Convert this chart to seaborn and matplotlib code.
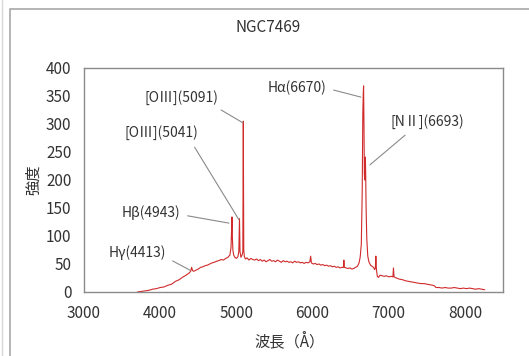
import numpy as np
import pandas as pd
import seaborn as sns
import matplotlib.pyplot as plt
from matplotlib.patches import Rectangle
from matplotlib.lines import Line2D

# spectrum of NGC7469 (wavelength in A, intensity)
wave = [3700, 3750, 3800, 3850, 3900, 3950, 4000, 4050, 4100, 4150,
        4200, 4250, 4300, 4340, 4380, 4400, 4413, 4425, 4440, 4470,
        4500, 4530, 4560, 4590, 4620, 4650, 4680, 4710, 4740, 4770,
        4800, 4830, 4860, 4890, 4915, 4930, 4938, 4943, 4948, 4955,
        4965, 4980, 5000, 5020, 5032, 5041, 5048, 5060, 5075, 5085,
        5091, 5097, 5105, 5120, 5140, 5165, 5190, 5215, 5240, 5265,
        5290, 5315, 5340, 5365, 5390, 5415, 5440, 5465, 5490, 5515,
        5540, 5565, 5590, 5615, 5640, 5665, 5690, 5715, 5740, 5765,
        5790, 5815, 5840, 5865, 5890, 5915, 5940, 5965, 5975, 5985,
        6010, 6035, 6060, 6085, 6110, 6135, 6160, 6185, 6210, 6235,
        6260, 6285, 6310, 6335, 6360, 6385, 6405, 6411, 6418, 6440,
        6465, 6490, 6515, 6540, 6565, 6590, 6610, 6625, 6640, 6652,
        6660, 6666, 6670, 6675, 6680, 6686, 6690, 6693, 6697, 6703,
        6712, 6725, 6740, 6760, 6780, 6800, 6815, 6825, 6831, 6838,
        6850, 6865, 6885, 6910, 6940, 6970, 7000, 7030, 7055, 7062,
        7070, 7100, 7140, 7180, 7220, 7260, 7300, 7340, 7380, 7420,
        7460, 7500, 7540, 7580, 7600, 7620, 7660, 7700, 7740, 7780,
        7820, 7860, 7900, 7940, 7980, 8020, 8060, 8100, 8140, 8180,
        8220, 8260]
flux = [0, 1, 2, 3, 5, 6, 8, 9, 12, 14,
        19, 22, 27, 30, 34, 37, 44, 38, 37, 39,
        41, 44, 45, 47, 48, 50, 52, 53, 55, 56,
        58, 57, 60, 62, 66, 80, 110, 134, 96, 74,
        66, 62, 60, 63, 72, 131, 72, 62, 66, 72,
        305, 75, 63, 59, 61, 57, 60, 58, 57, 59,
        56, 58, 55, 57, 54, 56, 58, 55, 56, 54,
        57, 55, 53, 56, 54, 55, 53, 54, 52, 55,
        53, 54, 52, 53, 51, 53, 52, 54, 64, 52,
        50, 51, 49, 50, 48, 49, 47, 48, 46, 47,
        45, 46, 44, 45, 43, 44, 44, 57, 44, 43,
        42, 43, 41, 42, 44, 46, 52, 62, 85, 180,
        320, 355, 368, 300, 210, 200, 225, 241, 215, 150,
        95, 64, 54, 48, 46, 44, 40, 43, 64, 41,
        28, 26, 30, 29, 28, 29, 27, 28, 27, 43,
        27, 25, 23, 22, 20, 19, 18, 17, 16, 15,
        15, 14, 13, 12, 11, 8, 8, 7, 8, 7,
        7, 8, 7, 6, 7, 6, 7, 6, 5, 6,
        5, 4]

# line labels and where their leaders point
labels = ['[OⅢ](5091)', '[OⅢ](5041)', 'Hβ(4943)', 'Hγ(4413)',
          'Hα(6670)', '[NⅡ](6693)']
label_x = [4273, 4010, 3879, 3696, 5795, 7501]
label_y = [348, 284, 141, 70, 364, 304]
tip_x = [5087, 5034, 4903, 4391, 6635, 6753]
tip_y = [302, 129, 123, 39, 348, 227]
rel_pos = [(0.92, 0.0), (0.9, 0.0), (1.0, 0.4), (1.0, 0.2), (1.0, 0.5), (0.3, 0.0)]

df = pd.DataFrame({'wave': wave, 'flux': flux})

sns.set_style('white')
plt.rcParams['font.family'] = ['Noto Sans CJK JP', 'DejaVu Sans']

fig = plt.figure(figsize=(5.29, 3.56), dpi=100)
ax = fig.add_axes([84 / 529, 64 / 356, 419 / 529, 224 / 356])

sns.lineplot(data=df, x='wave', y='flux', ax=ax, color='#d02a2a',
             linewidth=0.8, estimator=None, sort=False)

ax.set_xlim(3000, 8500)
ax.set_ylim(0, 400)
ax.set_xticks(range(3000, 8001, 1000))
ax.set_yticks(range(0, 401, 50))

gray = '#8a8a8a'
txt = '#333333'
for s in ax.spines.values():
    s.set_color(gray)
    s.set_linewidth(1.0)
ax.tick_params(axis='x', direction='in', length=4, color=gray, labelsize=11,
               labelcolor=txt, pad=9)
ax.tick_params(axis='y', direction='out', length=4, color=gray, labelsize=11,
               labelcolor=txt, pad=5)

ax.set_xlabel('波長（Å）', fontsize=11, color=txt)
ax.set_ylabel('強度', fontsize=11, color=txt)
ax.xaxis.set_label_coords(0.49, -0.18)
ax.yaxis.set_label_coords(-0.10, 0.5)

for lab, lx, ly, tx, ty, rp in zip(labels, label_x, label_y, tip_x, tip_y, rel_pos):
    ax.annotate(lab, xy=(tx, ty), xytext=(lx, ly), ha='center', va='center',
                fontsize=10, color=txt,
                arrowprops=dict(arrowstyle='-', color=gray, lw=0.8,
                                relpos=rp, shrinkA=3, shrinkB=0))

fig.text(268 / 529, 1 - 27 / 356, 'NGC7469', ha='center', va='center',
         fontsize=11, color=txt)

# outer chart frame
fig.patches.append(Rectangle((10 / 529, -0.2), 1.2, 1.2 - 9 / 356,
                             transform=fig.transFigure, fill=False,
                             edgecolor='#a8a8a8', lw=1.2))
fig.lines.append(Line2D([2 / 529, 2 / 529], [0, 1], transform=fig.transFigure,
                        color='#d8d8d8', lw=1))

fig.savefig('out.png', dpi=100)
